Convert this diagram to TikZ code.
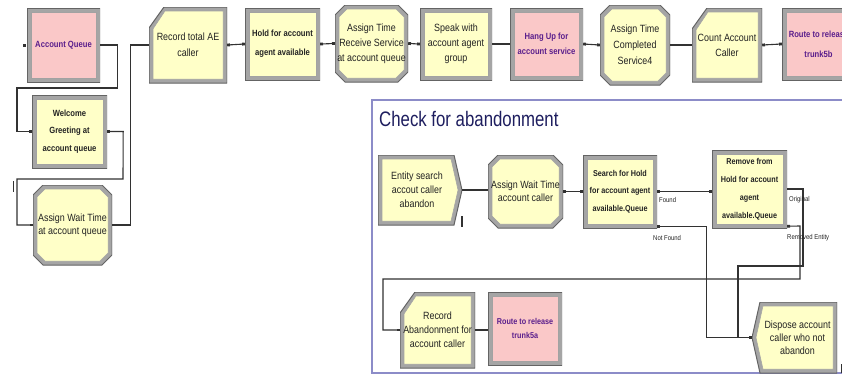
\documentclass[tikz,border=0pt]{standalone}
\usepackage{fontspec}
\setmainfont{Liberation Sans}
\newfontfamily\nar{Liberation Sans}[FakeStretch=0.85]
\newfontfamily\tfont{Liberation Sans}[FakeStretch=0.8]
\usetikzlibrary{calc,arrows.meta}
\definecolor{modyel}{RGB}{255,255,200}
\definecolor{modpink}{RGB}{250,200,200}
\definecolor{bord}{RGB}{165,165,165}
\definecolor{bordd}{RGB}{100,100,100}
\definecolor{txtd}{RGB}{35,35,35}
\definecolor{txtp}{RGB}{90,30,140}
\definecolor{linec}{RGB}{50,50,50}
\definecolor{subb}{RGB}{140,140,200}
\definecolor{titlec}{RGB}{30,30,95}
\tikzset{
  mod/.style={inner sep=0pt, align=center, text=txtd, font=\nar\fontsize{10}{15}\selectfont},
  fs/.style 2 args={font=\nar\fontsize{#1}{#2}\selectfont},
  fsb/.style 2 args={font=\nar\bfseries\fontsize{#1}{#2}\selectfont},
  pinkt/.style={text=txtp},
  boxmod/.style={path picture={
    \coordinate (pA) at (path picture bounding box.north west);
    \coordinate (pB) at (path picture bounding box.south east);
    \coordinate (pC) at ($(pA)+(4pt,-4pt)$);
    \coordinate (pD) at ($(pB)+(-4pt,4pt)$);
    \fill[bord, draw=bordd, line width=1pt] (pA) rectangle (pB);
    \fill[#1, draw=bordd!60, line width=0.5pt] (pC) rectangle (pD);
  }},
  octmod/.style={path picture={
    \coordinate (pA) at (path picture bounding box.north west);
    \coordinate (pB) at (path picture bounding box.south east);
    \coordinate (pC) at ($(pA)+(4pt,-4pt)$);
    \coordinate (pD) at ($(pB)+(-4pt,4pt)$);
    \fill[bord, draw=bordd, line width=1pt]
      ($(pA)+(10pt,0)$) -- ($(pB|-pA)+(-10pt,0)$) -- ($(pB|-pA)+(0,-10pt)$) -- ($(pB)+(0,10pt)$)
      -- ($(pB)+(-10pt,0)$) -- ($(pA|-pB)+(10pt,0)$) -- ($(pA|-pB)+(0,10pt)$) -- ($(pA)+(0,-10pt)$) -- cycle;
    \fill[#1, draw=bordd!60, line width=0.5pt]
      ($(pC)+(8pt,0)$) -- ($(pD|-pC)+(-8pt,0)$) -- ($(pD|-pC)+(0,-8pt)$) -- ($(pD)+(0,8pt)$)
      -- ($(pD)+(-8pt,0)$) -- ($(pC|-pD)+(8pt,0)$) -- ($(pC|-pD)+(0,8pt)$) -- ($(pC)+(0,-8pt)$) -- cycle;
  }},
  recmod/.style={path picture={
    \coordinate (pA) at (path picture bounding box.north west);
    \coordinate (pB) at (path picture bounding box.south east);
    \coordinate (pC) at ($(pA)+(4pt,-4pt)$);
    \coordinate (pD) at ($(pB)+(-4pt,4pt)$);
    \fill[bord, draw=bordd, line width=1pt]
      ($(pA)+(15pt,0)$) -- (pB|-pA) -- (pB) -- (pA|-pB) -- ($(pA)+(0,-21pt)$) -- cycle;
    \fill[#1, draw=bordd!60, line width=0.5pt]
      ($(pC)+(12pt,0)$) -- (pD|-pC) -- (pD) -- (pC|-pD) -- ($(pC)+(0,-18pt)$) -- cycle;
  }},
  srchmod/.style={path picture={
    \coordinate (pA) at (path picture bounding box.north west);
    \coordinate (pB) at (path picture bounding box.south east);
    \coordinate (pC) at ($(pA)+(4pt,-4pt)$);
    \coordinate (pD) at ($(pB)+(-4pt,4pt)$);
    \fill[bord, draw=bordd, line width=1pt]
      (pA) -- ($(pB|-pA)+(-8pt,0)$) -- ($(pB|-pA)!0.5!(pB)$) -- ($(pB)+(-8pt,0)$) -- (pA|-pB) -- cycle;
    \fill[#1, draw=bordd!60, line width=0.5pt]
      (pC) -- ($(pD|-pC)+(-7pt,0)$) -- ($(pD|-pC)!0.5!(pD)$) -- ($(pD)+(-7pt,0)$) -- (pC|-pD) -- cycle;
  }},
  dispmod/.style={path picture={
    \coordinate (pA) at (path picture bounding box.north west);
    \coordinate (pB) at (path picture bounding box.south east);
    \coordinate (pC) at ($(pA)+(4pt,-4pt)$);
    \coordinate (pD) at ($(pB)+(-4pt,4pt)$);
    \fill[bord, draw=bordd, line width=1pt]
      ($(pA)+(8pt,0)$) -- (pB|-pA) -- (pB) -- ($(pA|-pB)+(8pt,0)$) -- ($(pA)!0.5!(pA|-pB)$) -- cycle;
    \fill[#1, draw=bordd!60, line width=0.5pt]
      ($(pC)+(7pt,0)$) -- (pD|-pC) -- (pD) -- ($(pC|-pD)+(7pt,0)$) -- ($(pC)!0.5!(pC|-pD)$) -- cycle;
  }},
  cn/.style={draw=linec, line width=1.1pt, {Square[length=2.8pt,width=2.8pt]}-{Square[length=2.8pt,width=2.8pt]}},
  lbl/.style={inner sep=0pt, anchor=west, text=txtd, font=\nar\fontsize{7}{8}\selectfont},
}
\begin{document}
\begin{tikzpicture}[x=1pt,y=-1pt]
\useasboundingbox (0,0) rectangle (842,375);
\clip (0,0) rectangle (842,375);
\fill[white] (0,0) rectangle (842,375);

% submodel frame
\draw[subb, line width=1.3pt, fill=white] (372,100) rectangle (852,373);
\node[anchor=base west, inner sep=0pt, text=titlec, font=\tfont\fontsize{21}{24}\selectfont] (TT) at (379,126) {Check for abandonment};

% top row
\node[mod, boxmod=modpink, pinkt, fsb={9}{12}, minimum width=73pt, minimum height=74pt] (AQ) at (63.5,45) {Account Queue};
\node[mod, boxmod=modyel, fsb={9}{17.5}, minimum width=75pt, minimum height=73pt] (WG) at (69.5,131.5) {\rule{0pt}{6pt}Welcome\\Greeting at\\account queue};
\node[mod, octmod=modyel, fs={10.5}{13}, minimum width=79pt, minimum height=80pt] (AWT) at (72.5,225) {Assign Wait Time\\at account queue};
\node[mod, recmod=modyel, fs={10.5}{16}, minimum width=78pt, minimum height=76pt] (RT) at (188,45) {Record total AE\\caller};
\node[mod, boxmod=modyel, fsb={9}{19}, minimum width=75pt, minimum height=72pt] (HA) at (282.5,44) {Hold for account\\agent available};
\node[mod, octmod=modyel, fs={10.5}{15}, minimum width=73pt, minimum height=77pt] (ATR) at (371.5,43.5) {Assign Time\\Receive Service\\at account queue};
\node[mod, boxmod=modyel, fs={10.5}{15}, minimum width=72pt, minimum height=72pt] (SP) at (456,44) {Speak with\\account agent\\group};
\node[mod, boxmod=modpink, pinkt, fsb={9}{15}, minimum width=73pt, minimum height=72pt] (HU) at (546.5,44) {Hang Up for\\account service};
\node[mod, octmod=modyel, fs={10.5}{16}, minimum width=70pt, minimum height=80pt] (ATC) at (635,45) {Assign Time\\Completed\\Service4};
\node[mod, recmod=modyel, fs={10.5}{15}, minimum width=70pt, minimum height=74pt] (CA) at (727,45) {Count Account\\Caller};
\node[mod, boxmod=modpink, pinkt, fsb={9}{20}, minimum width=73pt, minimum height=72pt] (RB) at (818.5,44) {Route to release\\trunk5b};

\fill[linec] ($(AQ.west)+(-4,-1.5)$) rectangle ++(3,3);
\draw[linec, line width=1pt] (13,181) -- (13,192);

\draw[cn] (AQ.east) -- ++(17,0) -- ++(0,43) -- (17,88) |- (WG.west);
\draw[cn] (WG.east) -- ++(16,0) -- (123,179) -- (17,179) |- (AWT.west);
\draw[cn] (AWT.east) -- ++(18,0) |- (RT.west);
\draw[cn] (RT.east) -- (HA.west);
\draw[cn] (HA.east) -- (ATR.west);
\draw[cn] (ATR.east) -- (SP.west);
\draw[cn] (SP.east) -- (HU.west);
\draw[cn] (HU.east) -- (ATC.west);
\draw[cn] (ATC.east) -- (CA.west);
\draw[cn] (CA.east) -- (RB.west);

% submodel contents
\node[mod, srchmod=modyel, fs={10.5}{14}, minimum width=84pt, minimum height=70pt] (ES) at (420,190) {\hspace*{-6pt}Entity search\\\hspace*{-6pt}accout caller\\\hspace*{-6pt}abandon};
\node[mod, octmod=modyel, fs={10.5}{13}, minimum width=75pt, minimum height=73pt] (AWC) at (525.5,191.5) {Assign Wait Time\\account caller};
\node[mod, boxmod=modyel, fsb={8.5}{17.5}, minimum width=74pt, minimum height=73pt] (SH) at (620,191.5) {Search for Hold\\for account agent\\available.Queue};
\node[mod, boxmod=modyel, fsb={8.5}{18}, minimum width=75pt, minimum height=78pt] (RH) at (749.5,189) {Remove from\\Hold for account\\agent\\available.Queue};
\node[mod, recmod=modyel, fs={10.5}{14}, minimum width=75pt, minimum height=76pt] (RA) at (437.5,330) {Record\\Abandonment for\\account caller};
\node[mod, boxmod=modpink, pinkt, fsb={8.5}{14}, minimum width=74pt, minimum height=73pt] (RR) at (525,328.5) {Route to release\\trunk5a};
\node[mod, dispmod=modyel, fs={10.5}{13}, minimum width=85pt, minimum height=71pt] (DP) at (794.5,337.5) {\hspace*{6pt}Dispose account\\\hspace*{6pt}caller who not\\\hspace*{6pt}abandon};

\draw[linec, line width=1.5pt] (462,216) -- (462,227);
\draw[linec, line width=1pt] (841,364) -- (841,373);

\draw[cn] (ES.east) -- (ES.east -| AWC.west);
\draw[cn] (AWC.east) -- (SH.west);
\draw[cn] (SH.east) -- (SH.east -| RH.west);
\draw[cn] ($(SH.south east)+(0,-2)$) -- ++(49,0) |- (DP.west);
\draw[cn] (RH.east) -- (803,189) -- (803,266) -- (738,266) |- (DP.west);
\draw[cn] ($(RH.south east)+(0,-2)$) -- (800,226) -- (800,279) -- (383,279) |- (RA.west);
\draw[cn] (RA.east) -- (RA.east -| RR.west);

\node[lbl] (LF) at (659,200) {Found};
\node[lbl] (LNF) at (653,238) {Not Found};
\node[lbl] (LO) at (789,200) {Original};
\node[lbl] (LR) at (787,238) {Removed Entity};
\end{tikzpicture}
\end{document}
